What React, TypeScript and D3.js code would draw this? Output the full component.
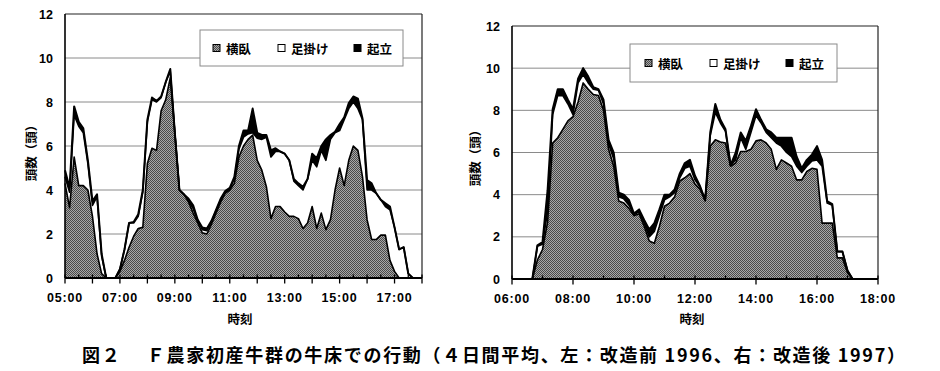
import React from "react";
import * as d3 from "d3";

// ---------- data ----------
const legendLabels = ["横臥", "足掛け", "起立"];
const yTicks = [0, 2, 4, 6, 8, 10, 12];

// left chart (改造前 1996): 10-min steps from 05:00
const leftStart = "05:00";
const leftLying = [4.3, 3.2, 5.5, 4.2, 4.2, 4.0, 2.8, 1.1, 0.2, 0, 0, 0, 0.3, 0.8, 1.4, 1.9, 2.25, 2.3, 5.2, 5.9, 5.8, 7.6, 8.1, 9.1, 6.6, 4.0, 3.8, 3.45, 2.95, 2.5, 2.05, 2.0, 2.45, 2.95, 3.45, 3.85, 4.0, 4.3, 5.5, 6.0, 6.3, 6.5, 5.35, 4.9, 4.15, 2.7, 3.25, 3.25, 3.0, 2.8, 2.8, 2.7, 2.25, 2.5, 3.25, 2.25, 2.95, 2.2, 2.65, 4.0, 5.0, 4.2, 5.35, 6.0, 5.8, 4.6, 2.65, 1.75, 1.75, 1.95, 1.95, 0.8, 0.3, 0, 0, 0, 0];
const leftFeet = [0.3, 0.7, 1.9, 2.7, 2.4, 1.2, 0.5, 2.6, 0.8, 0, 0, 0, 0.1, 0.5, 1.1, 0.6, 0.55, 1.6, 1.9, 2.2, 2.2, 0.6, 0.8, 0.3, 0, 0, 0, 0.05, 0.2, 0.1, 0.15, 0.15, 0.1, 0.1, 0.1, 0.05, 0.05, 0.2, 0.35, 0.4, 0.25, 0.1, 1.0, 1.4, 2.25, 2.8, 2.5, 2.5, 2.65, 2.55, 1.6, 1.5, 1.75, 2.0, 2.1, 2.8, 2.85, 3.15, 3.65, 2.6, 1.7, 3.0, 2.35, 2.0, 1.9, 2.6, 1.35, 2.25, 2.1, 1.6, 1.3, 2.3, 2.0, 1.3, 1.4, 0.2, 0];
const leftStand = [0.3, 0.2, 0.4, 0.2, 0.2, 0.15, 0.2, 0.1, 0.1, 0, 0, 0, 0, 0, 0, 0.05, 0.1, 0.1, 0.1, 0.1, 0.05, 0.05, 0, 0.1, 0, 0, 0, 0.1, 0.15, 0.05, 0.1, 0.1, 0.05, 0.05, 0.05, 0.05, 0.05, 0.1, 0.15, 0.3, 0.15, 1.1, 0.25, 0.2, 0.1, 0.3, 0.15, 0, 0, 0, 0.1, 0.1, 0.15, 0, 0.3, 0.4, 0.2, 0.95, 0.2, 0.05, 0.3, 0.1, 0.25, 0.25, 0.45, 0.05, 0.45, 0.3, 0, 0, 0.15, 0.15, 0, 0, 0, 0, 0];
const leftXLabels = ["05:00", "07:00", "09:00", "11:00", "13:00", "15:00", "17:00"];

// right chart (改造後 1997): 10-min steps from 06:40
const rightStart = "06:40";
const rightLying = [0, 0.9, 1.4, 2.7, 6.45, 6.7, 7.1, 7.5, 7.7, 8.4, 9.3, 9.0, 8.75, 8.7, 8.0, 6.15, 5.35, 3.7, 3.6, 3.35, 3.0, 3.1, 2.5, 1.8, 1.7, 2.5, 3.45, 3.6, 3.9, 4.65, 4.8, 5.0, 4.5, 4.25, 3.7, 6.3, 6.6, 6.5, 6.45, 5.35, 5.5, 6.05, 6.05, 6.15, 6.55, 6.6, 6.45, 6.15, 5.2, 5.65, 5.5, 5.35, 4.7, 4.7, 5.1, 5.25, 5.2, 2.65, 2.65, 2.65, 1.0, 1.0, 0.3, 0];
const rightFeet = [0, 0.65, 0.25, 0.5, 1.35, 2.0, 1.6, 0.8, 0.1, 0.9, 0.4, 0.3, 0.25, 0.25, 0.3, 0.25, 0.35, 0.2, 0.2, 0.15, 0.05, 0.1, 0.15, 0.2, 0.55, 0.5, 0.3, 0.3, 0.2, 0.15, 0.45, 0.35, 0.2, 0.1, 0.05, 0.5, 1.3, 0.9, 0.55, 0.05, 0.15, 0.65, 0.1, 0.8, 1.2, 0.8, 0.5, 0.55, 1.25, 0.65, 0.5, 0.45, 0.65, 0.35, 0.25, 0.35, 0.45, 2.7, 0.95, 0.85, 0.3, 0.3, 0.1, 0];
const rightStand = [0, 0.05, 0.1, 1.0, 0.25, 0.3, 0.3, 0.2, 0.25, 0.2, 0.3, 0.3, 0.1, 0.05, 0.2, 0.2, 0.3, 0.2, 0.2, 0.25, 0.05, 0.1, 0.15, 0.35, 0.4, 0.3, 0.25, 0.1, 0.15, 0.2, 0.25, 0.3, 0.2, 0.05, 0, 0.15, 0.4, 0.15, 0.1, 0, 0.35, 0.25, 0.4, 0.3, 0.3, 0.15, 0.15, 0.25, 0.25, 0.4, 0.7, 0.9, 0.45, 0.2, 0.3, 0.3, 0.65, 0.3, 0.1, 0.05, 0, 0, 0, 0];
const rightXLabels = ["06:00", "08:00", "10:00", "12:00", "14:00", "16:00", "18:00"];

const yTitle = "頭数（頭）";
const xTitle = "時刻";
const caption = "図２　 Ｆ農家初産牛群の牛床での行動（４日間平均、左：改造前 1996、右：改造後 1997）";

// ---------- helpers ----------
const toMin = (s: string) => {
  const [h, m] = s.split(":").map(Number);
  return h * 60 + m;
};
const NUM_FONT = "'Liberation Sans', Arial, sans-serif";
const JP_FONT = "'Noto Sans CJK JP', 'Noto Sans CJK SC', sans-serif";

type ChartProps = {
  left: number; right: number; top: number; bottom: number;
  domainStart: string; domainEnd: string;
  dataStart: string;
  lying: number[]; feet: number[]; stand: number[];
  xLabels: string[];
  tickStep: number;
  longEvery: number;
  legend: { x: number; y: number; w: number; h: number; items: number[] };
  yTitlePos: [number, number];
  xTitlePos: [number, number];
};

function Chart(p: ChartProps) {
  const x = d3.scaleLinear().domain([toMin(p.domainStart), toMin(p.domainEnd)]).range([p.left, p.right]);
  const y = d3.scaleLinear().domain([0, 12]).range([p.bottom, p.top]);
  const t0 = toMin(p.dataStart);
  const rows = p.lying.map((v, i) => ({ t: t0 + i * 10, lying: v, feet: p.feet[i], stand: p.stand[i] }));
  const stacked = d3.stack<any>().keys(["lying", "feet", "stand"])(rows);
  const area = d3.area<any>().x((d) => x(d.data.t)).y0((d) => y(d[0])).y1((d) => y(d[1]));
  const line = d3.line<any>().x((d) => x(d.data.t)).y((d) => y(d[1]));
  const fills = ["url(#halftone)", "#ffffff", "#000000"];

  const ticks = d3.range(toMin(p.domainStart), toMin(p.domainEnd) + 1, p.tickStep);

  return (
    <g>
      {yTicks.filter((v) => v > 0 && v < 12).map((v) => (
        <line key={v} x1={p.left} x2={p.right} y1={y(v)} y2={y(v)} stroke="#8a8a8a" strokeWidth={1} />
      ))}
      {stacked.map((s, i) => (
        <path key={i} d={area(s) || ""} fill={fills[i]} stroke="none" />
      ))}
      {stacked.map((s, i) => (
        <path key={"l" + i} d={line(s) || ""} fill="none" stroke="#000" strokeWidth={i === 2 ? 2 : 1.6} strokeLinejoin="round" />
      ))}
      <line x1={p.left} x2={p.right} y1={p.top} y2={p.top} stroke="#222" strokeWidth={1.2} />
      <line x1={p.right} x2={p.right} y1={p.top} y2={p.bottom} stroke="#222" strokeWidth={1.2} />
      <line x1={p.left} x2={p.left} y1={p.top} y2={p.bottom} stroke="#000" strokeWidth={1.6} />
      <line x1={p.left} x2={p.right} y1={p.bottom} y2={p.bottom} stroke="#000" strokeWidth={1.8} />
      {ticks.map((t) => {
        const long = (t - toMin(p.domainStart)) % p.longEvery === 0;
        return (
          <line key={t} x1={x(t)} x2={x(t)} y1={p.bottom - 3.5} y2={p.bottom + (long ? 5.5 : 0.5)} stroke="#000" strokeWidth={1.3} />
        );
      })}
      {p.xLabels.map((l) => (
        <text key={l} x={x(toMin(l))} y={p.bottom + 24} textAnchor="middle" fontFamily={NUM_FONT} fontWeight="bold" fontSize={12.5} letterSpacing={0.8}>
          {l}
        </text>
      ))}
      {yTicks.map((v) => (
        <text key={v} x={p.left - 12} y={y(v) + 4.5} textAnchor="end" fontFamily={NUM_FONT} fontWeight="bold" fontSize={12.5}>
          {v}
        </text>
      ))}
      <text transform={`translate(${p.yTitlePos[0]},${p.yTitlePos[1]}) rotate(-90)`} textAnchor="middle" dominantBaseline="central" fontFamily={JP_FONT} fontWeight="bold" fontSize={12.5}>
        {yTitle}
      </text>
      <text x={p.xTitlePos[0]} y={p.xTitlePos[1]} textAnchor="middle" dominantBaseline="central" fontFamily={JP_FONT} fontWeight="bold" fontSize={12.5}>
        {xTitle}
      </text>
      <rect x={p.legend.x} y={p.legend.y} width={p.legend.w} height={p.legend.h} fill="#fff" stroke="#8a8a8a" strokeWidth={1} />
      {legendLabels.map((lab, i) => {
        const sx = p.legend.items[i];
        const cy = p.legend.y + p.legend.h / 2;
        return (
          <g key={lab}>
            <rect x={sx} y={cy - 3.5} width={7} height={7} fill={fills[i]} stroke="#000" strokeWidth={1} />
            <text x={sx + 13} y={cy} dominantBaseline="central" fontFamily={JP_FONT} fontWeight="bold" fontSize={12.5}>
              {lab}
            </text>
          </g>
        );
      })}
    </g>
  );
}

export default function App() {
  return (
    <svg width={940} height={371} style={{ position: "absolute", left: 0, top: 0, background: "#fff" }}>
      <defs>
        <pattern id="halftone" width={2} height={2} patternUnits="userSpaceOnUse">
          <rect width={2} height={2} fill="#a8a8a8" />
          <rect x={0} y={0} width={1} height={1} fill="#4a4a4a" />
          <rect x={1} y={1} width={1} height={1} fill="#4a4a4a" />
        </pattern>
      </defs>
      <rect width={940} height={371} fill="#fff" />
      <Chart
        left={65} right={422} top={14} bottom={278}
        domainStart="05:00" domainEnd="18:00" dataStart={leftStart}
        lying={leftLying} feet={leftFeet} stand={leftStand}
        xLabels={leftXLabels} tickStep={30} longEvery={60}
        legend={{ x: 200, y: 30, w: 203, h: 36, items: [213, 278, 354] }}
        yTitlePos={[30, 150]} xTitlePos={[240, 318]}
      />
      <Chart
        left={512} right={878} top={26} bottom={279}
        domainStart="06:00" domainEnd="18:00" dataStart={rightStart}
        lying={rightLying} feet={rightFeet} stand={rightStand}
        xLabels={rightXLabels} tickStep={60} longEvery={120}
        legend={{ x: 630, y: 44, w: 207, h: 38, items: [645, 710, 786] }}
        yTitlePos={[474, 155]} xTitlePos={[692, 318]}
      />
      <text x={82} y={362} fontFamily={JP_FONT} fontWeight="bold" fontSize={18} textLength={823} lengthAdjust="spacing">
        {caption}
      </text>
    </svg>
  );
}
